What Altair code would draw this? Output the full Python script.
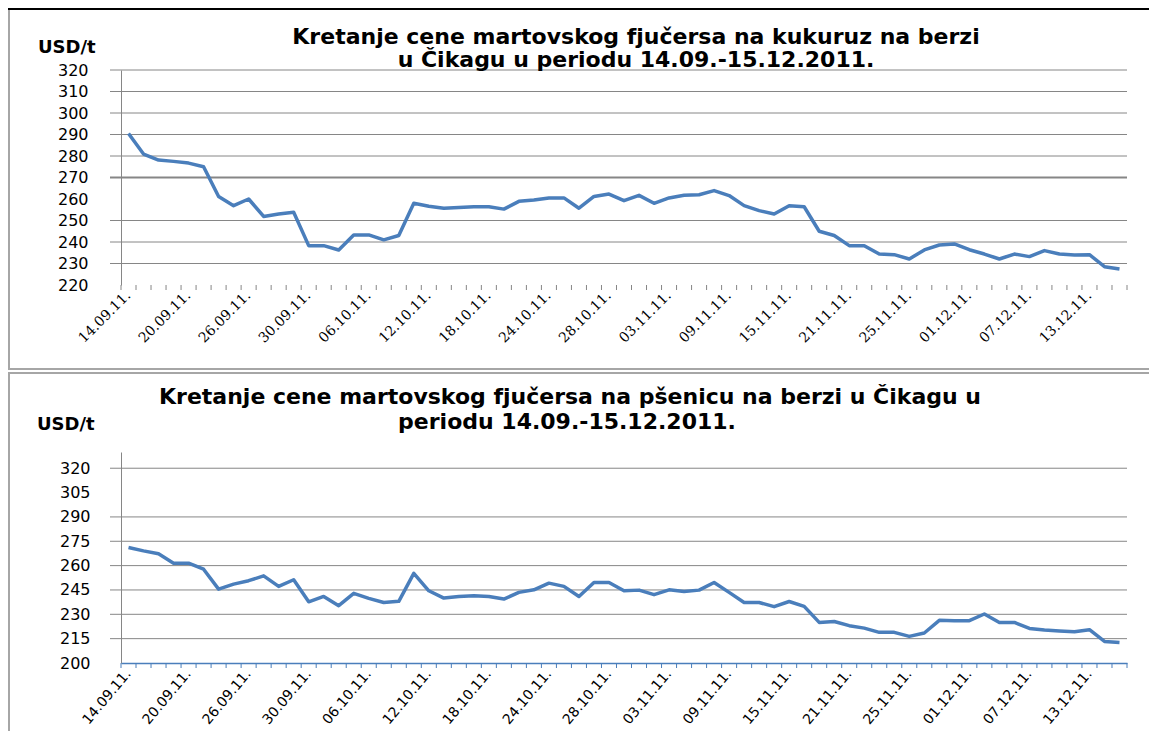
import altair as alt
import pandas as pd

# ---- categories (trading days 14.09.2011 - 15.12.2011) ----
sep_days = ["14", "15", "16", "19", "20", "21", "22", "23", "26", "27", "28", "29", "30"]
oct_days = ["03", "04", "05", "06", "07", "10", "11", "12", "13", "14", "17", "18", "19",
            "20", "21", "24", "25", "26", "27", "28", "31"]
nov_days = ["01", "02", "03", "04", "07", "08", "09", "10", "11", "14", "15", "16", "17",
            "18", "21", "22", "23", "24", "25", "28", "29", "30"]
dec_days = ["01", "02", "05", "06", "07", "08", "09", "12", "13", "14", "15"]
dates = ([d + ".09.11." for d in sep_days] + [d + ".10.11." for d in oct_days]
         + [d + ".11.11." for d in nov_days] + [d + ".12.11." for d in dec_days])
label_dates = ["14.09.11.", "20.09.11.", "26.09.11.", "30.09.11.", "06.10.11.", "12.10.11.",
               "18.10.11.", "24.10.11.", "28.10.11.", "03.11.11.", "09.11.11.", "15.11.11.",
               "21.11.11.", "25.11.11.", "01.12.11.", "07.12.11.", "13.12.11."]

# ---- series (USD/t) ----
corn = [290.5, 280.9, 278.1, 277.5, 276.7, 275.0, 261.2, 256.9, 260.0, 251.9,
        253.0, 253.8, 238.3, 238.3, 236.3, 243.3, 243.3, 241.0, 243.0, 258.0,
        256.6, 255.7, 256.1, 256.4, 256.4, 255.3, 258.9, 259.5, 260.5, 260.5,
        255.7, 261.2, 262.3, 259.2, 261.7, 258.0, 260.5, 261.7, 262.0, 263.9,
        261.6, 256.9, 254.6, 253.0, 256.9, 256.4, 245.0, 243.0, 238.3, 238.3,
        234.4, 234.1, 232.1, 236.3, 238.6, 239.1, 236.4, 234.4, 232.1, 234.4,
        233.2, 236.0, 234.4, 234.0, 234.1, 228.5, 227.4]
wheat = [271.2, 269.1, 267.3, 261.5, 261.5, 257.8, 245.5, 248.6, 250.7, 253.7,
         247.2, 251.3, 237.7, 241.0, 235.3, 242.9, 239.8, 237.3, 238.0, 255.2,
         244.5, 240.0, 241.0, 241.4, 241.0, 239.4, 243.5, 245.1, 249.2, 247.2,
         241.0, 249.6, 249.6, 244.5, 244.9, 242.1, 245.1, 244.1, 244.9, 249.6,
         243.5, 237.3, 237.3, 234.7, 237.9, 234.9, 225.0, 225.6, 223.0, 221.5,
         218.9, 218.9, 216.4, 218.5, 226.3, 226.1, 226.1, 230.2, 225.0, 225.0,
         221.3, 220.3, 219.7, 219.3, 220.5, 213.3, 212.7]

corn_ticks = [220, 230, 240, 250, 260, 270, 280, 290, 300, 310, 320]
corn_grid = [230, 240, 250, 270, 280, 290, 300, 310, 320]
corn_grid_w = [1, 1, 1, 2, 1, 1, 1, 1, 1]
wheat_ticks = [200, 215, 230, 245, 260, 275, 290, 305, 320]
wheat_grid = [215, 230, 245, 260, 275, 290, 320]
wheat_grid_w = [1, 1, 1, 1, 1, 1, 1]

title_corn = ["Kretanje cene martovskog fjučersa na kukuruz na berzi",
              "u Čikagu u periodu 14.09.-15.12.2011."]
title_wheat = ["Kretanje cene martovskog fjučersa na pšenicu na berzi u Čikagu u",
               "periodu 14.09.-15.12.2011."]
unit = "USD/t"

BLUE = "#4a7ebb"
GRID = "#868686"
BORDER = "#a6a6a6"
one = pd.DataFrame({"a": [0]})


def panel(values, ydom, ticks, grid, grid_w, titles, W, H, xfont, angle,
          lab_pad, title_x, title_y, unit_x, unit_y, boxes, blue_axis):
    df = pd.DataFrame({"date": dates, "value": values})
    yscale = alt.Scale(domain=ydom, nice=False, zero=False)
    xscale = alt.Scale(type="band", paddingInner=0, paddingOuter=0)
    xaxis = alt.Axis(values=label_dates, labelAngle=angle, labelAlign="right",
                     labelBaseline="middle", labelFont=xfont, labelFontSize=14,
                     labelColor="#000", labelPadding=8, ticks=False, grid=False,
                     domain=blue_axis, domainColor=BLUE, domainWidth=1.5,
                     labelOverlap=False, bandPosition=0.5)
    yaxis = alt.Axis(values=ticks, grid=False, ticks=False, tickSize=0,
                     domainColor=GRID, domainWidth=1, labelFont="DejaVu Sans",
                     labelFontSize=16, labelColor="#000", labelPadding=lab_pad)

    gdf = pd.DataFrame({"v": grid, "w": grid_w})
    grid_layer = alt.Chart(gdf).mark_rule(color=GRID).encode(
        y=alt.Y("v:Q", scale=yscale, axis=yaxis, title=None),
        x=alt.value(-11), x2=alt.value(W),
        strokeWidth=alt.StrokeWidth("w:Q", scale=None, legend=None),
    )

    tcol = BLUE if blue_axis else GRID
    tick_layer = alt.Chart(df).mark_rule(color=tcol, strokeWidth=1).encode(
        x=alt.X("date:N", sort=dates, scale=xscale, bandPosition=0, axis=xaxis, title=None),
        y=alt.value(H), y2=alt.value(H + 5),
    )
    tick_end = alt.Chart(one).mark_rule(color=tcol, strokeWidth=1).encode(
        x=alt.value(W), y=alt.value(H), y2=alt.value(H + 5))

    line = alt.Chart(df).mark_line(color=BLUE, strokeWidth=3.5, strokeJoin="round").encode(
        x=alt.X("date:N", sort=dates, scale=xscale, axis=xaxis, title=None),
        y=alt.Y("value:Q", scale=yscale, axis=yaxis, title=None),
    )

    texts = []
    for i, t in enumerate(titles):
        texts.append(alt.Chart(pd.DataFrame({"t": [t]})).mark_text(
            font="DejaVu Sans", fontSize=22, fontWeight="bold", align="center",
            baseline="middle", color="#000").encode(
            text="t:N", x=alt.value(title_x[i]), y=alt.value(title_y[i])))
    texts.append(alt.Chart(pd.DataFrame({"t": [unit]})).mark_text(
        font="DejaVu Sans", fontSize=18, fontWeight="bold", align="left",
        baseline="middle", color="#000").encode(
        text="t:N", x=alt.value(unit_x), y=alt.value(unit_y)))

    frames = []
    for (x1, x2, y1, y2, col) in boxes:
        frames.append(alt.Chart(one).mark_rect(color=col, strokeWidth=0).encode(
            x=alt.value(x1), x2=alt.value(x2), y=alt.value(y1), y2=alt.value(y2)))

    return alt.layer(grid_layer, tick_layer, *frames, tick_end, line, *texts).properties(
        width=W, height=H)


W1, H1 = 1006, 215
W2, H2 = 1006, 211
XR = 1028  # right end of the frame lines (page edge)

top = panel(corn, [220, 320], corn_ticks, corn_grid, corn_grid_w, title_corn, W1, H1,
            "DejaVu Serif", -45, 33, [515, 515], [-33, -10], -83, -22,
            [(-113, XR, -62, -60, "#000"),
             (-113, XR, 298, 300, BORDER),
             (-113, -111, -60, 300, BORDER)],
            False)

bottom = panel(wheat, [200, 330], wheat_ticks, wheat_grid, wheat_grid_w, title_wheat, W2, H2,
               "DejaVu Sans", -50, 31, [449, 446], [-55, -30], -84, -27,
               [(-113, XR, -80, -78, BORDER),
                (-113, -111, -78, 279, BORDER)],
               True)

chart = alt.vconcat(top, bottom, spacing=2).properties(
    padding=0).configure_view(stroke=None)
chart.save("out.html", embed_options={"renderer": "svg", "actions": False})
